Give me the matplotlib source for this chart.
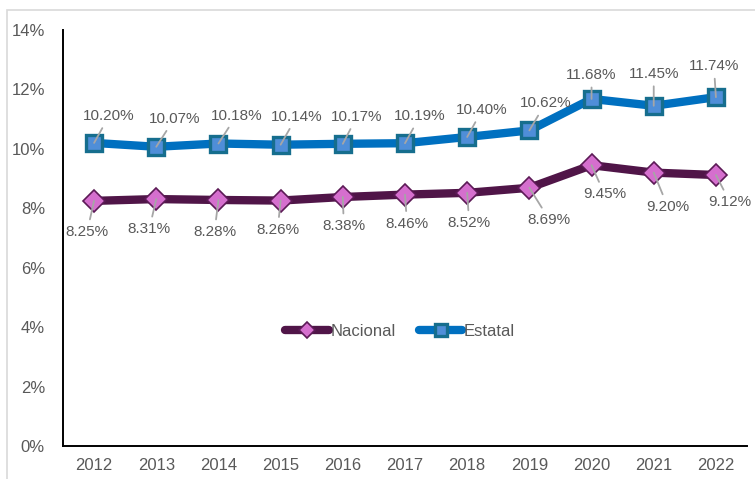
import matplotlib
matplotlib.use("Agg")
import matplotlib.pyplot as plt
from matplotlib.patches import Rectangle
from matplotlib.ticker import PercentFormatter

plt.rcParams['font.family'] = ['Liberation Sans', 'DejaVu Sans']

years = ["2012", "2013", "2014", "2015", "2016", "2017", "2018", "2019", "2020", "2021", "2022"]
nacional = [8.25, 8.31, 8.28, 8.26, 8.38, 8.46, 8.52, 8.69, 9.45, 9.20, 9.12]
estatal = [10.20, 10.07, 10.18, 10.14, 10.17, 10.19, 10.40, 10.62, 11.68, 11.45, 11.74]

# label offsets from each point, in pixels
est_off = [(15, 27), (18, 28), (18, 28), (16, 28), (14, 27), (15, 27), (15, 27), (16, 27), (0, 24), (0, 32), (-2, 31)]
nac_off = [(-7, -31), (-7, -30), (-4, -32), (-3, -29), (1, -29), (2, -29), (2, -30), (20, -32), (13, -29), (14, -34), (14, -27)]

text_gray = "#595959"
nac_line, nac_fill, nac_edge = "#501548", "#D56FCE", "#5C1A56"
est_line, est_fill, est_edge = "#0070C0", "#4F8ED8", "#166E8E"

fig = plt.figure(figsize=(7.55, 4.79), dpi=100)
ax = fig.add_axes([63 / 755, 1 - 446 / 479, (747 - 63) / 755, (446 - 30) / 479])

x = list(range(len(years)))
ax.plot(x, nacional, color=nac_line, lw=6, solid_capstyle="round", marker="D", ms=11,
        mfc=nac_fill, mec=nac_edge, mew=1.2, label="Nacional", zorder=3)
ax.plot(x, estatal, color=est_line, lw=6, solid_capstyle="round", marker="s", ms=11.5,
        mfc=est_fill, mec=est_edge, mew=2.4, label="Estatal", zorder=3)

for xi, v, (dx, dy) in zip(x, estatal, est_off):
    ax.annotate(f"{v:.2f}%", xy=(xi, v), xytext=(dx, dy), textcoords="offset pixels",
                ha="center", va="center", fontsize=11, color=text_gray, zorder=5,
                arrowprops=dict(arrowstyle="-", color="#A6A6A6", lw=1.3, shrinkA=2, shrinkB=0))
for xi, v, (dx, dy) in zip(x, nacional, nac_off):
    ax.annotate(f"{v:.2f}%", xy=(xi, v), xytext=(dx, dy), textcoords="offset pixels",
                ha="center", va="center", fontsize=11, color=text_gray, zorder=5,
                arrowprops=dict(arrowstyle="-", color="#A6A6A6", lw=1.3, shrinkA=2, shrinkB=0))

ax.set_xlim(-0.5, len(years) - 0.5)
ax.set_ylim(0, 14)
ax.set_xticks(x)
ax.set_xticklabels(years)
ax.set_yticks(range(0, 15, 2))
ax.yaxis.set_major_formatter(PercentFormatter(decimals=0))
ax.tick_params(axis="both", length=0, labelsize=12, labelcolor=text_gray)
ax.tick_params(axis="y", pad=13)
ax.tick_params(axis="x", pad=9)

for side in ("top", "right"):
    ax.spines[side].set_visible(False)
for side in ("left", "bottom"):
    ax.spines[side].set_color("black")
    ax.spines[side].set_linewidth(1.4)

leg = ax.legend(loc="center", bbox_to_anchor=(0.493, 0.276), ncol=2, frameon=False,
                fontsize=12, markerscale=0.7, handlelength=2.6, handletextpad=0.1,
                columnspacing=1.4)
for t in leg.get_texts():
    t.set_color(text_gray)

# light outer frame
fig.patches.append(Rectangle((7 / 755, -0.1), 1.2, 1 - 10 / 479 + 0.1,
                             transform=fig.transFigure, fill=False,
                             edgecolor="#D9D9D9", lw=1.2, zorder=0))

fig.savefig("out.png", dpi=100)
